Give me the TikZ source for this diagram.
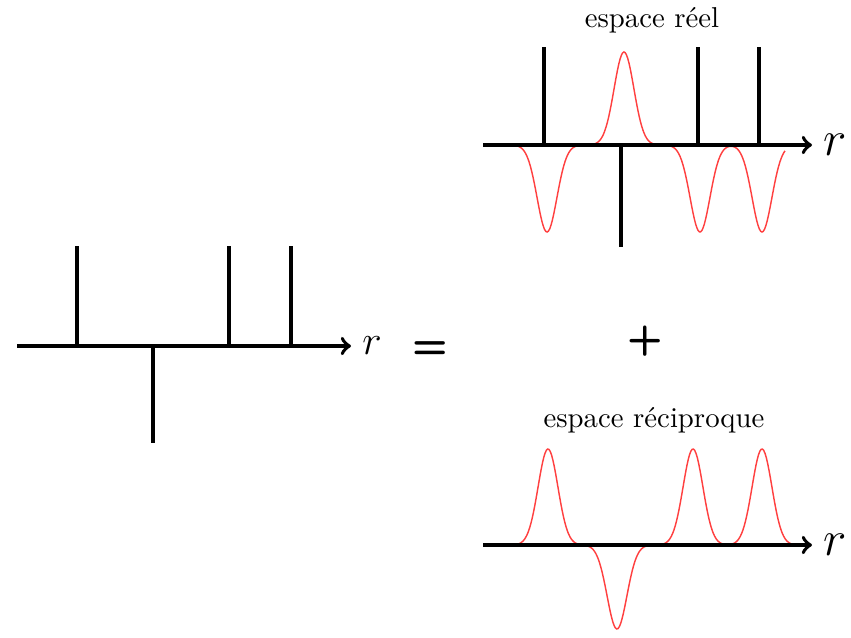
\documentclass[tikz,border=0pt]{standalone}
\usepackage{fontspec}
\begin{document}
\begin{tikzpicture}[x=0.01222cm,y=-0.01222cm]
\useasboundingbox (0,0) rectangle (851,637);

% signal complet
\draw[line width=1.3pt,->] (17,346) -- (351,346) node[right] (rg) {\Large$r$};
\draw[line width=1.3pt] (77,346) -- (77,246);
\draw[line width=1.3pt] (229,346) -- (229,246);
\draw[line width=1.3pt] (291,346) -- (291,246);
\draw[line width=1.3pt] (153,346) -- (153,443);

\node (egal) at (430,350) {\sffamily\bfseries\Large =};
\node (plus) at (645,341) {\sffamily\bfseries\Large +};

% espace reel
\node (reel) at (652,20) {espace réel};
\draw[red!75,line width=0.5pt,domain=505:785,samples=220] plot (\x,{145-93*exp(-((\x-624)/14)^2)
  +87*exp(-((\x-547)/14)^2)+87*exp(-((\x-700)/14)^2)+87*exp(-((\x-762)/14)^2)});
\draw[line width=1.3pt,->] (483,145) -- (812,145) node[right] (rh) {\LARGE$r$};
\draw[line width=1.3pt] (544,145) -- (544,47);
\draw[line width=1.3pt] (698,145) -- (698,47);
\draw[line width=1.3pt] (759,145) -- (759,47);
\draw[line width=1.3pt] (621,145) -- (621,247);

% espace reciproque
\node (recip) at (654,420) {espace réciproque};
\draw[red!75,line width=0.5pt,domain=510:795,samples=220] plot (\x,{545-96*exp(-((\x-548)/14)^2)
  -96*exp(-((\x-693)/14)^2)-96*exp(-((\x-762)/14)^2)+84*exp(-((\x-617)/14)^2)});
\draw[line width=1.3pt,->] (483,545) -- (812,545) node[right] (rb) {\LARGE$r$};
\end{tikzpicture}
\end{document}
